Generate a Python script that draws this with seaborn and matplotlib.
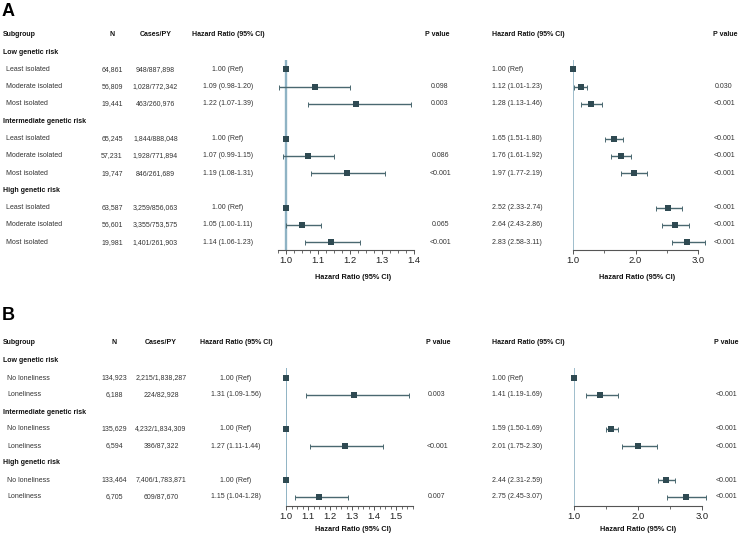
import matplotlib
matplotlib.use("Agg")
import matplotlib.pyplot as plt
import seaborn as sns
import numpy as np
import pandas as pd
from matplotlib.ticker import FixedLocator, FormatStrFormatter

# ---------------- data ----------------
GROUPS = ["Low genetic risk", "Intermediate genetic risk", "High genetic risk"]

A_SUB = ["Least isolated", "Moderate isolated", "Most isolated"]
A_N = ["64,861", "56,809", "19,441", "65,245", "57,231", "19,747", "63,587", "56,601", "19,981"]
A_CASES = ["948/887,898", "1,028/772,342", "463/260,976", "1,844/888,048", "1,928/771,894",
           "846/261,689", "3,259/856,063", "3,355/753,575", "1,401/261,903"]
A_HR1 = [1.00, 1.09, 1.22, 1.00, 1.07, 1.19, 1.00, 1.05, 1.14]
A_LO1 = [1.00, 0.98, 1.07, 1.00, 0.99, 1.08, 1.00, 1.00, 1.06]
A_HI1 = [1.00, 1.20, 1.39, 1.00, 1.15, 1.31, 1.00, 1.11, 1.23]
A_P1 = ["", "0.098", "0.003", "", "0.086", "<0.001", "", "0.065", "<0.001"]
A_HR2 = [1.00, 1.12, 1.28, 1.65, 1.76, 1.97, 2.52, 2.64, 2.83]
A_LO2 = [1.00, 1.01, 1.13, 1.51, 1.61, 1.77, 2.33, 2.43, 2.58]
A_HI2 = [1.00, 1.23, 1.46, 1.80, 1.92, 2.19, 2.74, 2.86, 3.11]
A_P2 = ["", "0.030", "<0.001", "<0.001", "<0.001", "<0.001", "<0.001", "<0.001", "<0.001"]

B_SUB = ["No loneliness", "Loneliness"]
B_N = ["134,923", "6,188", "135,629", "6,594", "133,464", "6,705"]
B_CASES = ["2,215/1,838,287", "224/82,928", "4,232/1,834,309", "386/87,322", "7,406/1,783,871", "609/87,670"]
B_HR1 = [1.00, 1.31, 1.00, 1.27, 1.00, 1.15]
B_LO1 = [1.00, 1.09, 1.00, 1.11, 1.00, 1.04]
B_HI1 = [1.00, 1.56, 1.00, 1.44, 1.00, 1.28]
B_P1 = ["", "0.003", "", "<0.001", "", "0.007"]
B_HR2 = [1.00, 1.41, 1.59, 2.01, 2.44, 2.75]
B_LO2 = [1.00, 1.19, 1.50, 1.75, 2.31, 2.45]
B_HI2 = [1.00, 1.69, 1.69, 2.30, 2.59, 3.07]
B_P2 = ["", "<0.001", "<0.001", "<0.001", "<0.001", "<0.001"]

A1_TICKS = [1.0, 1.1, 1.2, 1.3, 1.4]
B1_TICKS = [1.0, 1.1, 1.2, 1.3, 1.4, 1.5]
X2_TICKS = [1.0, 2.0, 3.0]

# ---------------- style ----------------
sns.set_theme(style="white")
plt.rcParams['font.family'] = ['Liberation Sans', 'DejaVu Sans']

MK = "#2f4a52"
CI = "#4a6870"
REF = "#8fb3c4"
AXC = "#555555"
FS = 5.0

W, H = 740, 535
fig = plt.figure(figsize=(W / 100, H / 100), dpi=100)
tab = fig.add_axes([0, 0, 1, 1])
tab.set_xlim(0, W)
tab.set_ylim(H, 0)
tab.axis('off')


def rect(x0, y0, x1, y1):
    return [x0 / W, 1 - y1 / H, (x1 - x0) / W, (y1 - y0) / H]


def txt(x, y, s, ha='center', bold=False, size=FS):
    tab.text(x, y, s, ha=ha, va='center', fontsize=size,
             fontweight='bold' if bold else 'normal',
             color='#111111' if bold else '#333333')


def hr_label(h, l, u):
    if h == l == u:
        return "1.00 (Ref)"
    return f"{h:.2f} ({l:.2f}-{u:.2f})"


def table(y0, dy, hdr_y, subs, N, cases, hr1, lo1, hi1, p1, hr2, lo2, hi2, p2, c):
    txt(3, hdr_y, "Subgroup", ha='left', bold=True)
    txt(c['n'], hdr_y, "N", bold=True)
    txt(c['cases'], hdr_y, "Cases/PY", bold=True)
    txt(c['hr1'], hdr_y, "Hazard Ratio (95% CI)", bold=True)
    txt(c['p1h'], hdr_y, "P value", bold=True)
    txt(c['hr2'], hdr_y, "Hazard Ratio (95% CI)", ha='left', bold=True)
    txt(c['p2h'], hdr_y, "P value", bold=True)
    rows = []
    k = 0
    per = len(subs) + 1
    for g, grp in enumerate(GROUPS):
        txt(3, y0 + g * per * dy, grp, ha='left', bold=True)
        for j, sub in enumerate(subs):
            r = g * per + j + 1
            y = y0 + r * dy
            txt(c['item'], y, sub, ha='left')
            txt(c['n'], y, N[k])
            txt(c['cases'], y, cases[k])
            txt(c['hr1'], y, hr_label(hr1[k], lo1[k], hi1[k]))
            txt(c['p1'], y, p1[k])
            txt(c['hr2'], y, hr_label(hr2[k], lo2[k], hi2[k]), ha='left')
            txt(c['p2'], y, p2[k])
            rows.append(r)
            k += 1
    return rows


def forest(px, rows, hr, lo, hi, xlim, ylim, majors, minors, fmt, ref_lw, s, lab_x, lab_dy):
    ax = fig.add_axes(rect(*px))
    ax.set_facecolor('none')
    ax.axvline(1.0, color=REF, lw=ref_lw, zorder=1)
    hr = np.asarray(hr); lo = np.asarray(lo); hi = np.asarray(hi); rows = np.asarray(rows, float)
    m = hi > lo
    ax.errorbar(hr[m], rows[m], xerr=[hr[m] - lo[m], hi[m] - hr[m]], fmt='none',
                ecolor=CI, elinewidth=1.0, capsize=1.8, capthick=0.7, zorder=2, clip_on=False)
    df = pd.DataFrame({'hr': hr, 'row': rows})
    sns.scatterplot(data=df, x='hr', y='row', marker='s', s=s, color=MK, edgecolor=MK,
                    linewidth=0, ax=ax, zorder=3, clip_on=False, legend=False)
    ax.set_xlim(*xlim)
    ax.set_ylim(*ylim)
    ax.set_yticks([])
    ax.set_ylabel("")
    for sp in ['left', 'top', 'right']:
        ax.spines[sp].set_visible(False)
    ax.spines['bottom'].set_color(AXC)
    ax.spines['bottom'].set_linewidth(0.8)
    ax.xaxis.set_major_locator(FixedLocator(majors))
    ax.xaxis.set_minor_locator(FixedLocator(minors))
    ax.xaxis.set_major_formatter(FormatStrFormatter(fmt))
    ax.tick_params(axis='x', which='major', direction='out', length=2.6, width=0.7,
                   color=AXC, labelsize=6.8, pad=1.5, labelcolor='#222222', bottom=True)
    ax.tick_params(axis='x', which='minor', direction='out', length=1.8, width=0.6,
                   color=AXC, bottom=True)
    ax.set_xlabel("Hazard Ratio (95% CI)", fontsize=5.3, fontweight='bold', color='#111111')
    h = px[3] - px[1]
    ax.xaxis.set_label_coords(lab_x, -lab_dy / h)
    return ax


# ---------------- panel A ----------------
tab.text(2, 11, "A", ha='left', va='center', fontsize=13, fontweight='bold', color='#000000')
A_Y0, A_DY = 52.0, 17.3
colsA = dict(item=6, n=112, cases=155.5, hr1=228, p1=440, p1h=437, hr2=492, p2=724, p2h=725)
rowsA = table(A_Y0, A_DY, 35, A_SUB, A_N, A_CASES, A_HR1, A_LO1, A_HI1, A_P1,
              A_HR2, A_LO2, A_HI2, A_P2, colsA)
ylimA = ((250 - A_Y0) / A_DY, (60 - A_Y0) / A_DY)
forest((277.7, 60, 414.3, 250), rowsA, A_HR1, A_LO1, A_HI1, (0.975, 1.4), ylimA,
       A1_TICKS, np.round(np.arange(0.975, 1.401, 0.025), 3), '%.1f', 1.7, 20, 0.55, 24)
forest((573, 60, 698, 250), rowsA, A_HR2, A_LO2, A_HI2, (1.0, 3.0), ylimA,
       X2_TICKS, [1.5, 2.5], '%.1f', 1.2, 15, 0.51, 24)

# ---------------- panel B ----------------
tab.text(2, 316, "B", ha='left', va='center', fontsize=13, fontweight='bold', color='#000000')
B_Y0, B_DY = 361.0, 17.0
colsB = dict(item=7, n=114, cases=161, hr1=236, p1=437, p1h=438, hr2=492, p2=726, p2h=726)
rowsB = table(B_Y0, B_DY, 343, B_SUB, B_N, B_CASES, B_HR1, B_LO1, B_HI1, B_P1,
              B_HR2, B_LO2, B_HI2, B_P2, colsB)
ylimB = ((506 - B_Y0) / B_DY, (368 - B_Y0) / B_DY)
forest((286, 368, 412.5, 506), rowsB, B_HR1, B_LO1, B_HI1, (1.0, 1.575), ylimB,
       B1_TICKS, np.round(np.arange(1.0, 1.576, 0.025), 3), '%.1f', 1.4, 18, 0.53, 20)
forest((573.7, 368, 701.7, 506), rowsB, B_HR2, B_LO2, B_HI2, (1.0, 3.0), ylimB,
       X2_TICKS, [1.5, 2.5], '%.1f', 1.2, 17, 0.5, 20)

fig.savefig("out.png", dpi=100)
